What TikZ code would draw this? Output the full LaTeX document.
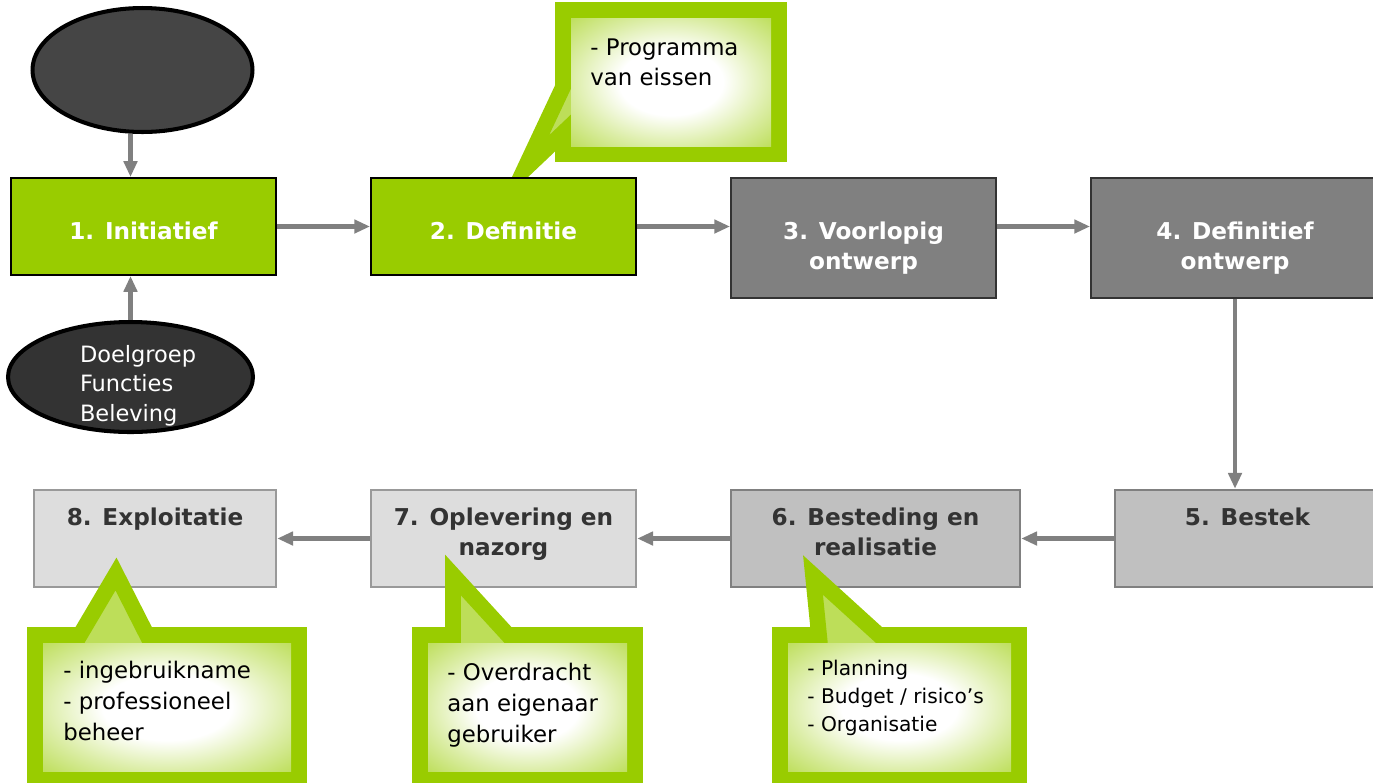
\documentclass[tikz,border=0pt]{standalone}
\usepackage{fontspec}
\setmainfont{DejaVu Sans}
\usetikzlibrary{arrows.meta,shapes.geometric}
\definecolor{phasegreen}{HTML}{99CC00}
\definecolor{arrowgray}{HTML}{808080}
\definecolor{darkphase}{HTML}{808080}
\definecolor{midphase}{HTML}{C0C0C0}
\definecolor{lightphase}{HTML}{DDDDDD}
\definecolor{phasetext}{HTML}{333333}
\pgfdeclareradialshading{noteglow}{\pgfpoint{0bp}{0bp}}{color(0bp)=(white); color(13bp)=(white); color(25bp)=(phasegreen!35!white); color(36bp)=(phasegreen!65!white); color(50bp)=(phasegreen!70!white)}
\pgfdeclarelayer{back}
\pgfsetlayers{back,main}
\tikzset{
  phase/.style={rectangle,draw,line width=1.1pt,inner sep=0pt,font=\bfseries\fontsize{13.2}{17}\selectfont},
  early/.style={phase,fill=phasegreen,draw=black,text=white},
  design/.style={phase,fill=darkphase,draw=black!80,text=white},
  build/.style={phase,fill=midphase,draw=arrowgray,text=phasetext,line width=1.4pt},
  after/.style={phase,fill=lightphase,draw=black!40,text=phasetext,line width=1.4pt},
  flow/.style={draw=arrowgray,line width=2.3pt,-{Triangle[length=9pt,width=7.5pt]}},
  topic/.style={ellipse,draw=black,line width=2.3pt,inner sep=0pt},
  note/.style={draw=phasegreen,line width=9pt,fill=phasegreen!65!white},
  noteinside/.style={shading=noteglow},
  notetext/.style={anchor=north west,align=left,inner sep=0pt,font=\fontsize{13}{17.5}\selectfont}
}
\newcommand{\phaselabel}[4]{\parbox[c][#1][t]{#2}{\vspace*{#3}\centering #4}}

\begin{document}
\begin{tikzpicture}[x=0.02cm,y=-0.02cm]
  \useasboundingbox (0,0) rectangle (1373,782);
  \clip (0,0) rectangle (1373,782);

  % callout behind phase 2
  \begin{pgfonlayer}{back}
    \path[note] (563,10) -- (779,10) -- (779,154) -- (563,154) -- (563,133)
      -- (524,170) -- (563,87) -- cycle;
    \shade[noteinside] (571,18) rectangle (771,146);
  \end{pgfonlayer}
  \node[notetext] (eisen) at (590,38) {- Programma\\van eissen};

  % phases
  \node[early] (init) at (143.5,226.5) {\phaselabel{1.94cm}{5.3cm}{0.88cm}{1. Initiatief}};
  \node[early] (defi) at (503.5,226.5) {\phaselabel{1.94cm}{5.3cm}{0.88cm}{2. Definitie}};
  \node[design] (vo) at (863.5,238) {\phaselabel{2.4cm}{5.3cm}{0.88cm}{3. Voorlopig\\ontwerp}};
  \node[design] (do) at (1235,238) {\phaselabel{2.4cm}{5.76cm}{0.88cm}{4. Definitief\\ontwerp}};
  \node[build] (bestek) at (1247.5,538.5) {\phaselabel{1.94cm}{5.3cm}{0.36cm}{5. Bestek}};
  \node[build] (real) at (875.5,538.5) {\phaselabel{1.94cm}{5.78cm}{0.36cm}{6. Besteding en\\realisatie}};
  \node[after] (oplev) at (503.5,538.5) {\phaselabel{1.94cm}{5.3cm}{0.36cm}{7. Oplevering en\\nazorg}};
  \node[after] (expl) at (155,538.5) {\phaselabel{1.94cm}{4.84cm}{0.36cm}{8. Exploitatie}};

  % inputs
  \node[topic,fill=black!73,minimum width=4.4cm,minimum height=2.48cm] (bron) at (142.5,70) {};
  \node[topic,fill=phasetext,minimum width=4.9cm,minimum height=2.2cm,text=white,
    font=\fontsize{12.8}{17}\selectfont] (doel) at (130.5,377)
    {\makebox[0pt][l]{\hspace*{-1.01cm}\raisebox{8.5pt}[0pt][0pt]{\parbox[t]{3cm}{\raggedright Doelgroep\\Functies\\Beleving}}}};

  \draw[flow] (bron.south -| doel) -- (init.north -| doel);
  \draw[flow] (doel.north) -- (init.south -| doel);
  \draw[flow] (init.east) -- (defi.west);
  \draw[flow] (defi.east) -- (defi.east -| vo.west);
  \draw[flow] (defi.east -| vo.east) -- (defi.east -| do.west);
  \draw[flow] (do.south) -- (do.south |- bestek.north);
  \draw[flow] (bestek.west) -- (real.east);
  \draw[flow] (real.west) -- (oplev.east);
  \draw[flow] (oplev.west) -- (expl.east);

  % callouts below
  \path[note] (35,635) -- (80,635) -- (116,574) -- (147,635) -- (299,635)
    -- (299,779) -- (35,779) -- cycle;
  \shade[noteinside] (43,643) rectangle (291,771);
  \path[note] (420,635) -- (453,635) -- (453,575) -- (508,635) -- (635,635)
    -- (635,779) -- (420,779) -- cycle;
  \shade[noteinside] (428,643) rectangle (627,771);
  \path[note] (780,635) -- (819,635) -- (813,575) -- (879,635) -- (1019,635)
    -- (1019,779) -- (780,779) -- cycle;
  \shade[noteinside] (788,643) rectangle (1011,771);
  \node[notetext] (beheer) at (63,661) {- ingebruikname\\- professioneel\\beheer};
  \node[notetext] (overdracht) at (447,663) {- Overdracht\\aan eigenaar\\gebruiker};
  \node[notetext,font=\fontsize{11.5}{16}\selectfont] (planning) at (807,660)
    {- Planning\\- Budget / risico’s\\- Organisatie};
\end{tikzpicture}
\end{document}
